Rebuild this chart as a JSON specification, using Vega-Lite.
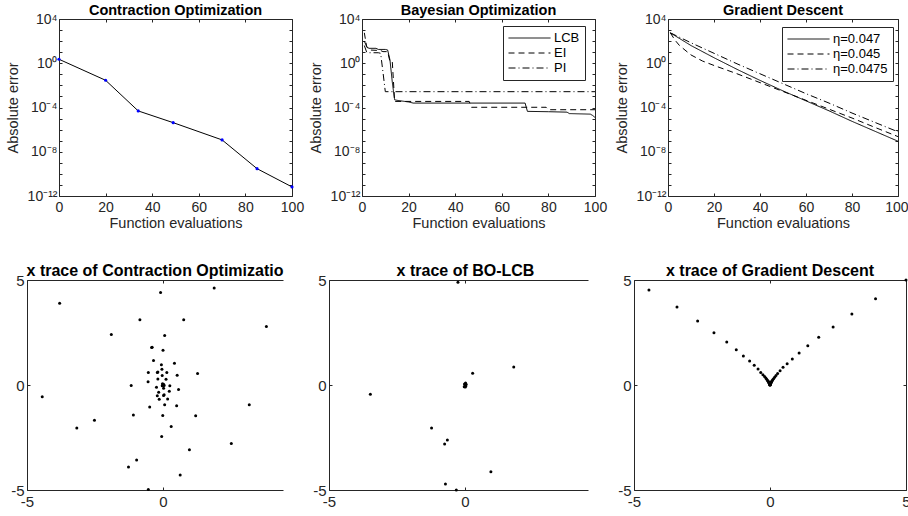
{
  "$schema": "https://vega.github.io/schema/vega-lite/v6.json",
  "background": "white",
  "padding": {"left": 5, "top": 2, "right": 0, "bottom": 0},
  "columns": 3,
  "spacing": {"row": 84, "column": 37},
  "bounds": "flush",
  "align": "each",
  "resolve": {"scale": {"strokeDash": "independent"}, "legend": {"strokeDash": "independent"}},
  "datasets": {
    "co": [
      {"x": 0, "y": 2.291}, {"x": 20, "y": 0.02884}, {"x": 34, "y": 4.898e-5}, {"x": 49, "y": 4.266e-6},
      {"x": 70, "y": 1.175e-7}, {"x": 85, "y": 2.951e-10}, {"x": 100, "y": 6.607e-12}
    ],
    "bo": [
      {"m": "LCB", "x": 1, "y": 100}, {"m": "LCB", "x": 2, "y": 31.62}, {"m": "LCB", "x": 3, "y": 22.39},
      {"m": "LCB", "x": 6, "y": 22.39}, {"m": "LCB", "x": 7, "y": 17.78}, {"m": "LCB", "x": 10, "y": 17.78},
      {"m": "LCB", "x": 11, "y": 15.85}, {"m": "LCB", "x": 12, "y": 2.0}, {"m": "LCB", "x": 13, "y": 0.02},
      {"m": "LCB", "x": 14, "y": 5.0e-4}, {"m": "LCB", "x": 15, "y": 4.47e-4}, {"m": "LCB", "x": 20, "y": 3.16e-4},
      {"m": "LCB", "x": 22, "y": 2.51e-4}, {"m": "LCB", "x": 70, "y": 2.51e-4}, {"m": "LCB", "x": 71, "y": 4.47e-5},
      {"m": "LCB", "x": 80, "y": 4.17e-5}, {"m": "LCB", "x": 88, "y": 3.8e-5}, {"m": "LCB", "x": 89, "y": 2.82e-5},
      {"m": "LCB", "x": 98, "y": 2.51e-5}, {"m": "LCB", "x": 99, "y": 1.9e-5}, {"m": "LCB", "x": 100, "y": 1.26e-5},
      {"m": "EI", "x": 1, "y": 562.3}, {"m": "EI", "x": 2, "y": 31.62}, {"m": "EI", "x": 3, "y": 15.85},
      {"m": "EI", "x": 8, "y": 14.13}, {"m": "EI", "x": 9, "y": 11.22}, {"m": "EI", "x": 11, "y": 11.22},
      {"m": "EI", "x": 12, "y": 1.41}, {"m": "EI", "x": 13, "y": 1.41}, {"m": "EI", "x": 14, "y": 3.55e-4},
      {"m": "EI", "x": 46, "y": 3.55e-4}, {"m": "EI", "x": 47, "y": 1.05e-4}, {"m": "EI", "x": 79, "y": 1.05e-4},
      {"m": "EI", "x": 80, "y": 6.31e-5}, {"m": "EI", "x": 100, "y": 6.31e-5},
      {"m": "PI", "x": 1, "y": 39.81}, {"m": "PI", "x": 2, "y": 10}, {"m": "PI", "x": 3, "y": 8.91},
      {"m": "PI", "x": 7, "y": 8.91}, {"m": "PI", "x": 8, "y": 7.94}, {"m": "PI", "x": 9, "y": 0.158},
      {"m": "PI", "x": 10, "y": 2.69e-3}, {"m": "PI", "x": 100, "y": 2.69e-3}
    ],
    "gd": [
      {"eta": "η=0.047", "x": 1, "y": 562.3}, {"eta": "η=0.047", "x": 10, "y": 39.81}, {"eta": "η=0.047", "x": 20, "y": 3.162},
      {"eta": "η=0.047", "x": 30, "y": 0.2818}, {"eta": "η=0.047", "x": 40, "y": 0.02818}, {"eta": "η=0.047", "x": 50, "y": 0.003162},
      {"eta": "η=0.047", "x": 60, "y": 3.981e-4}, {"eta": "η=0.047", "x": 70, "y": 5.012e-5}, {"eta": "η=0.047", "x": 80, "y": 5.623e-6},
      {"eta": "η=0.047", "x": 90, "y": 7.079e-7}, {"eta": "η=0.047", "x": 100, "y": 8.913e-8},
      {"eta": "η=0.045", "x": 1, "y": 562.3}, {"eta": "η=0.045", "x": 3, "y": 125.9}, {"eta": "η=0.045", "x": 5, "y": 39.81},
      {"eta": "η=0.045", "x": 10, "y": 5.623}, {"eta": "η=0.045", "x": 15, "y": 1.585}, {"eta": "η=0.045", "x": 20, "y": 0.631},
      {"eta": "η=0.045", "x": 30, "y": 0.1122}, {"eta": "η=0.045", "x": 40, "y": 0.01778}, {"eta": "η=0.045", "x": 50, "y": 0.002818},
      {"eta": "η=0.045", "x": 60, "y": 4.467e-4}, {"eta": "η=0.045", "x": 70, "y": 7.079e-5}, {"eta": "η=0.045", "x": 80, "y": 1.122e-5},
      {"eta": "η=0.045", "x": 90, "y": 1.585e-6}, {"eta": "η=0.045", "x": 100, "y": 2.344e-7},
      {"eta": "η=0.0475", "x": 1, "y": 562.3}, {"eta": "η=0.0475", "x": 10, "y": 70.79}, {"eta": "η=0.0475", "x": 20, "y": 7.943},
      {"eta": "η=0.0475", "x": 30, "y": 0.8913}, {"eta": "η=0.0475", "x": 40, "y": 0.1122}, {"eta": "η=0.0475", "x": 50, "y": 0.01413},
      {"eta": "η=0.0475", "x": 60, "y": 0.001778}, {"eta": "η=0.0475", "x": 70, "y": 2.512e-4}, {"eta": "η=0.0475", "x": 80, "y": 3.162e-5},
      {"eta": "η=0.0475", "x": 90, "y": 4.467e-6}, {"eta": "η=0.0475", "x": 100, "y": 6.31e-7}
    ],
    "tco": [
      {"x": 1.88, "y": 4.62}, {"x": -0.09, "y": 4.40}, {"x": -3.80, "y": 3.89}, {"x": -0.85, "y": 3.11},
      {"x": 0.76, "y": 3.11}, {"x": 3.80, "y": 2.78}, {"x": -1.90, "y": 2.40}, {"x": 0.06, "y": 2.36},
      {"x": -0.42, "y": 1.78}, {"x": -0.40, "y": 1.80}, {"x": 0.0, "y": 1.65}, {"x": -0.35, "y": 1.17}, {"x": 0.42, "y": 1.04},
      {"x": -0.06, "y": 0.97}, {"x": -0.04, "y": 0.75}, {"x": -0.54, "y": 0.60}, {"x": -0.21, "y": 0.60},
      {"x": -0.19, "y": 0.62}, {"x": 0.14, "y": 0.60}, {"x": 1.27, "y": 0.55}, {"x": 0.52, "y": 0.47},
      {"x": -0.03, "y": 0.45}, {"x": -0.19, "y": 0.28}, {"x": 0.11, "y": 0.27}, {"x": -0.55, "y": 0.16},
      {"x": -1.17, "y": -0.02}, {"x": 0.0, "y": 0.0}, {"x": 0.02, "y": 0.04}, {"x": -0.03, "y": -0.03},
      {"x": 0.04, "y": -0.02}, {"x": -0.02, "y": 0.06}, {"x": 0.25, "y": -0.03}, {"x": -0.24, "y": -0.11},
      {"x": 0.02, "y": -0.16}, {"x": 0.57, "y": -0.22}, {"x": 0.23, "y": -0.30}, {"x": -0.16, "y": -0.34},
      {"x": -0.21, "y": -0.51}, {"x": 0.02, "y": -0.50}, {"x": 0.04, "y": -0.47}, {"x": 0.17, "y": -0.67},
      {"x": -0.14, "y": -0.68}, {"x": -4.44, "y": -0.56}, {"x": 0.06, "y": -0.94}, {"x": 3.17, "y": -0.94},
      {"x": -0.49, "y": -1.05}, {"x": 0.50, "y": -0.99}, {"x": -1.09, "y": -1.43}, {"x": -0.01, "y": -1.45},
      {"x": 1.20, "y": -1.47}, {"x": -2.52, "y": -1.68}, {"x": -3.17, "y": -2.05}, {"x": 0.30, "y": -1.98},
      {"x": -0.05, "y": -2.45}, {"x": 2.51, "y": -2.78}, {"x": 0.97, "y": -3.08}, {"x": -0.97, "y": -3.57},
      {"x": -1.27, "y": -3.90}, {"x": 0.63, "y": -4.29}, {"x": -0.54, "y": -4.98}
    ],
    "tbo": [
      {"x": -0.26, "y": 4.89}, {"x": 1.79, "y": 0.86}, {"x": 0.28, "y": 0.56}, {"x": 0.0, "y": 0.0},
      {"x": 0.03, "y": -0.05}, {"x": -0.02, "y": 0.05}, {"x": 0.04, "y": 0.03}, {"x": 0.01, "y": -0.1},
      {"x": -0.03, "y": -0.08}, {"x": 0.02, "y": 0.1}, {"x": -3.48, "y": -0.44}, {"x": -1.23, "y": -2.05},
      {"x": -0.65, "y": -2.62}, {"x": -0.75, "y": -2.81}, {"x": 0.95, "y": -4.13}, {"x": -0.72, "y": -4.71},
      {"x": -0.32, "y": -5.0}
    ],
    "tgd": [
      {"x": 5, "y": 5}, {"x": 3.88, "y": 4.11}, {"x": 3.01, "y": 3.38}, {"x": 2.32, "y": 2.76}, {"x": 1.79, "y": 2.27},
      {"x": 1.39, "y": 1.87}, {"x": 1.07, "y": 1.52}, {"x": 0.82, "y": 1.24}, {"x": 0.63, "y": 1.01}, {"x": 0.48, "y": 0.84},
      {"x": 0.37, "y": 0.68}, {"x": 0.28, "y": 0.55}, {"x": 0.22, "y": 0.45}, {"x": 0.17, "y": 0.37}, {"x": 0.13, "y": 0.30},
      {"x": 0.10, "y": 0.25}, {"x": 0.078, "y": 0.20}, {"x": 0.06, "y": 0.165}, {"x": 0.046, "y": 0.135}, {"x": 0.036, "y": 0.11},
      {"x": 0.028, "y": 0.09}, {"x": 0.021, "y": 0.074}, {"x": 0.016, "y": 0.06}, {"x": 0.012, "y": 0.05}, {"x": 0.009, "y": 0.04},
      {"x": 0.007, "y": 0.033}, {"x": 0.005, "y": 0.027},
      {"x": -4.45, "y": 4.52}, {"x": -3.42, "y": 3.71}, {"x": -2.66, "y": 3.05}, {"x": -2.06, "y": 2.49}, {"x": -1.59, "y": 2.05},
      {"x": -1.24, "y": 1.68}, {"x": -0.98, "y": 1.38}, {"x": -0.75, "y": 1.14}, {"x": -0.58, "y": 0.94}, {"x": -0.44, "y": 0.76},
      {"x": -0.34, "y": 0.60}, {"x": -0.26, "y": 0.49}, {"x": -0.20, "y": 0.40}, {"x": -0.155, "y": 0.33}, {"x": -0.12, "y": 0.27},
      {"x": -0.09, "y": 0.22}, {"x": -0.07, "y": 0.18}, {"x": -0.054, "y": 0.15}, {"x": -0.042, "y": 0.12}, {"x": -0.032, "y": 0.10},
      {"x": -0.025, "y": 0.08}, {"x": -0.019, "y": 0.066}, {"x": -0.015, "y": 0.054}, {"x": -0.011, "y": 0.044}, {"x": -0.009, "y": 0.036},
      {"x": -0.007, "y": 0.03}, {"x": 0.0, "y": 0.0}, {"x": 0.002, "y": 0.01}, {"x": -0.002, "y": 0.008}, {"x": 0.001, "y": 0.004}
    ]
  },
  "concat": [
    {
      "width": 265, "height": 177,
      "title": {"text": "Contraction Optimization", "dx": 16},
      "data": {"name": "co"},
      "layer": [
        {
          "mark": {"type": "line", "color": "black", "strokeWidth": 1},
          "encoding": {
            "x": {"field": "x", "type": "quantitative", "scale": {"domain": [0, 100], "range": [32, 265], "nice": false, "zero": false},
                  "axis": {"orient": "bottom", "values": [0, 20, 40, 60, 80, 100], "title": "Function evaluations", "labelPadding": 7, "titlePadding": 2, "labelFlush": false}},
            "y": {"field": "y", "type": "quantitative", "scale": {"type": "log", "domain": [1e-12, 10000], "nice": false},
                  "axis": {"orient": "left", "offset": -32, "values": [1e-12, 1e-11, 1e-10, 1e-9, 1e-8, 1e-7, 1e-6, 1e-5, 1e-4, 0.001, 0.01, 0.1, 1, 10, 100, 1000, 10000],
                           "labelExpr": "round(log(datum.value)/LN10) == 4 ? '10⁴' : round(log(datum.value)/LN10) == 0 ? '10⁰' : round(log(datum.value)/LN10) == -4 ? '10⁻⁴' : round(log(datum.value)/LN10) == -8 ? '10⁻⁸' : round(log(datum.value)/LN10) == -12 ? '10⁻¹²' : ''",
                           "title": "Absolute error", "labelPadding": 5, "titlePadding": 7}}
          }
        },
        {
          "mark": {"type": "point", "filled": true, "color": "#0000ff", "size": 10, "opacity": 1},
          "encoding": {"x": {"field": "x", "type": "quantitative", "axis": null}, "y": {"field": "y", "type": "quantitative", "axis": null}}
        },
        {
          "mark": {"type": "point", "opacity": 0},
          "encoding": {
            "x": {"field": "x", "type": "quantitative", "axis": {"orient": "top", "values": [0, 20, 40, 60, 80, 100], "labels": false, "title": null}},
            "y": {"field": "y", "type": "quantitative", "axis": {"orient": "right", "values": [1e-12, 1e-11, 1e-10, 1e-9, 1e-8, 1e-7, 1e-6, 1e-5, 1e-4, 0.001, 0.01, 0.1, 1, 10, 100, 1000, 10000], "labels": false, "title": null}}
          }
        }
      ],
      "resolve": {"axis": {"x": "independent", "y": "independent"}}
    },
    {
      "width": 266, "height": 177,
      "title": {"text": "Bayesian Optimization", "dx": 16.5},
      "data": {"name": "bo"},
      "layer": [
        {
          "mark": {"type": "line", "color": "black", "strokeWidth": 1},
          "encoding": {
            "x": {"field": "x", "type": "quantitative", "scale": {"domain": [0, 100], "range": [33, 266], "nice": false, "zero": false},
                  "axis": {"orient": "bottom", "values": [0, 20, 40, 60, 80, 100], "title": "Function evaluations", "labelPadding": 7, "titlePadding": 2, "labelFlush": false}},
            "y": {"field": "y", "type": "quantitative", "scale": {"type": "log", "domain": [1e-12, 10000], "nice": false},
                  "axis": {"orient": "left", "offset": -33, "values": [1e-12, 1e-11, 1e-10, 1e-9, 1e-8, 1e-7, 1e-6, 1e-5, 1e-4, 0.001, 0.01, 0.1, 1, 10, 100, 1000, 10000],
                           "labelExpr": "round(log(datum.value)/LN10) == 4 ? '10⁴' : round(log(datum.value)/LN10) == 0 ? '10⁰' : round(log(datum.value)/LN10) == -4 ? '10⁻⁴' : round(log(datum.value)/LN10) == -8 ? '10⁻⁸' : round(log(datum.value)/LN10) == -12 ? '10⁻¹²' : ''",
                           "title": "Absolute error", "labelPadding": 5, "titlePadding": 7}},
            "strokeDash": {"field": "m", "type": "nominal",
                           "scale": {"domain": ["LCB", "EI", "PI"], "range": [[1, 0], [6, 4], [7, 3, 1, 3]]},
                           "legend": {"orient": "none", "legendX": 174, "legendY": 7, "title": null, "symbolType": "stroke", "symbolSize": 1764, "clipHeight": 14,
                                      "symbolStrokeWidth": 1, "symbolStrokeColor": "black", "labelFontSize": 13, "labelColor": "black", "labelFont": "Liberation Sans",
                                      "strokeColor": "#262626", "fillColor": "white", "padding": 5, "rowPadding": 1, "labelOffset": 3}}
          }
        },
        {
          "mark": {"type": "point", "opacity": 0},
          "encoding": {
            "x": {"field": "x", "type": "quantitative", "axis": {"orient": "top", "values": [0, 20, 40, 60, 80, 100], "labels": false, "title": null}},
            "y": {"field": "y", "type": "quantitative", "axis": {"orient": "right", "values": [1e-12, 1e-11, 1e-10, 1e-9, 1e-8, 1e-7, 1e-6, 1e-5, 1e-4, 0.001, 0.01, 0.1, 1, 10, 100, 1000, 10000], "labels": false, "title": null}}
          }
        }
      ],
      "resolve": {"axis": {"x": "independent", "y": "independent"}}
    },
    {
      "width": 266, "height": 177,
      "title": {"text": "Gradient Descent", "dx": 18},
      "data": {"name": "gd"},
      "layer": [
        {
          "mark": {"type": "line", "color": "black", "strokeWidth": 1},
          "encoding": {
            "x": {"field": "x", "type": "quantitative", "scale": {"domain": [0, 100], "range": [36, 266], "nice": false, "zero": false},
                  "axis": {"orient": "bottom", "values": [0, 20, 40, 60, 80, 100], "title": "Function evaluations", "labelPadding": 7, "titlePadding": 2, "labelFlush": false,
                           "labelAlign": {"condition": {"test": "datum.value == 100", "value": "right"}, "value": "center"},
                           "labelOffset": {"condition": {"test": "datum.value == 100", "value": 10}, "value": 0}}},
            "y": {"field": "y", "type": "quantitative", "scale": {"type": "log", "domain": [1e-12, 10000], "nice": false},
                  "axis": {"orient": "left", "offset": -36, "values": [1e-12, 1e-11, 1e-10, 1e-9, 1e-8, 1e-7, 1e-6, 1e-5, 1e-4, 0.001, 0.01, 0.1, 1, 10, 100, 1000, 10000],
                           "labelExpr": "round(log(datum.value)/LN10) == 4 ? '10⁴' : round(log(datum.value)/LN10) == 0 ? '10⁰' : round(log(datum.value)/LN10) == -4 ? '10⁻⁴' : round(log(datum.value)/LN10) == -8 ? '10⁻⁸' : round(log(datum.value)/LN10) == -12 ? '10⁻¹²' : ''",
                           "title": "Absolute error", "labelPadding": 5, "titlePadding": 7}},
            "strokeDash": {"field": "eta", "type": "nominal",
                           "scale": {"domain": ["η=0.047", "η=0.045", "η=0.0475"], "range": [[1, 0], [6, 4], [7, 3, 1, 3]]},
                           "legend": {"orient": "none", "legendX": 150, "legendY": 8, "title": null, "symbolType": "stroke", "symbolSize": 1764, "clipHeight": 14,
                                      "symbolStrokeWidth": 1, "symbolStrokeColor": "black", "labelFontSize": 13, "labelColor": "black", "labelFont": "Liberation Sans",
                                      "strokeColor": "#262626", "fillColor": "white", "padding": 5, "rowPadding": 1, "labelOffset": 3}}
          }
        },
        {
          "mark": {"type": "point", "opacity": 0},
          "encoding": {
            "x": {"field": "x", "type": "quantitative", "axis": {"orient": "top", "values": [0, 20, 40, 60, 80, 100], "labels": false, "title": null}},
            "y": {"field": "y", "type": "quantitative", "axis": {"orient": "right", "values": [1e-12, 1e-11, 1e-10, 1e-9, 1e-8, 1e-7, 1e-6, 1e-5, 1e-4, 0.001, 0.01, 0.1, 1, 10, 100, 1000, 10000], "labels": false, "title": null}}
          }
        }
      ],
      "resolve": {"axis": {"x": "independent", "y": "independent"}}
    },
    {
      "width": 256, "height": 210,
      "title": {"text": "x trace of Contraction Optimizatio", "fontSize": 16},
      "data": {"name": "tco"},
      "layer": [
        {
          "mark": {"type": "circle", "color": "black", "size": 9, "opacity": 1},
          "encoding": {
            "x": {"field": "x", "type": "quantitative", "scale": {"domain": [-5, 4.41], "nice": false, "zero": false},
                  "axis": {"orient": "bottom", "values": [-5, 0], "title": null, "labelExpr": "'' + datum.value", "labelPadding": 7, "labelFlush": false, "labelFontSize": 15}},
            "y": {"field": "y", "type": "quantitative", "scale": {"domain": [-5, 5], "nice": false, "zero": false},
                  "axis": {"orient": "left", "values": [-5, 0, 5], "title": null, "labelExpr": "'' + datum.value", "labelPadding": 6, "labelFontSize": 15}}
          }
        },
        {
          "mark": {"type": "circle", "opacity": 0},
          "encoding": {
            "x": {"field": "x", "type": "quantitative", "axis": {"orient": "top", "values": [-5, 0], "labels": false, "title": null}},
            "y": {"field": "y", "type": "quantitative", "axis": null}
          }
        }
      ],
      "resolve": {"axis": {"x": "independent", "y": "independent"}}
    },
    {
      "width": 259, "height": 210,
      "title": {"text": "x trace of BO-LCB", "fontSize": 16, "dx": 7},
      "data": {"name": "tbo"},
      "layer": [
        {
          "mark": {"type": "circle", "color": "black", "size": 9, "opacity": 1},
          "encoding": {
            "x": {"field": "x", "type": "quantitative", "scale": {"domain": [-5, 4.52], "nice": false, "zero": false},
                  "axis": {"orient": "bottom", "values": [-5, 0], "title": null, "labelExpr": "'' + datum.value", "labelPadding": 7, "labelFlush": false, "labelFontSize": 15}},
            "y": {"field": "y", "type": "quantitative", "scale": {"domain": [-5, 5], "nice": false, "zero": false},
                  "axis": {"orient": "left", "values": [-5, 0, 5], "title": null, "labelExpr": "'' + datum.value", "labelPadding": 6, "labelFontSize": 15}}
          }
        },
        {
          "mark": {"type": "circle", "opacity": 0},
          "encoding": {
            "x": {"field": "x", "type": "quantitative", "axis": {"orient": "top", "values": [-5, 0], "labels": false, "title": null}},
            "y": {"field": "y", "type": "quantitative", "axis": null}
          }
        }
      ],
      "resolve": {"axis": {"x": "independent", "y": "independent"}}
    },
    {
      "width": 274, "height": 210,
      "title": {"text": "x trace of Gradient Descent", "fontSize": 16, "dx": 1},
      "data": {"name": "tgd"},
      "layer": [
        {
          "mark": {"type": "circle", "color": "black", "size": 9, "opacity": 1},
          "encoding": {
            "x": {"field": "x", "type": "quantitative", "scale": {"domain": [-5, 5], "range": [2, 274], "nice": false, "zero": false},
                  "axis": {"orient": "bottom", "values": [-5, 0, 5], "title": null, "labelExpr": "'' + datum.value", "labelPadding": 7, "labelFlush": false, "labelFontSize": 15}},
            "y": {"field": "y", "type": "quantitative", "scale": {"domain": [-5, 5], "nice": false, "zero": false},
                  "axis": {"orient": "left", "offset": -2, "values": [-5, 0, 5], "title": null, "labelExpr": "'' + datum.value", "labelPadding": 6, "labelFontSize": 15}}
          }
        },
        {
          "mark": {"type": "circle", "opacity": 0},
          "encoding": {
            "x": {"field": "x", "type": "quantitative", "axis": {"orient": "top", "values": [-5, 0, 5], "labels": false, "title": null}},
            "y": {"field": "y", "type": "quantitative", "axis": {"orient": "right", "values": [-5, 0, 5], "labels": false, "title": null}}
          }
        }
      ],
      "resolve": {"axis": {"x": "independent", "y": "independent"}}
    }
  ],
  "config": {
    "font": "Liberation Sans",
    "view": {"stroke": null},
    "axis": {
      "grid": false, "domainColor": "#262626", "tickColor": "#262626", "labelColor": "#262626", "titleColor": "#262626",
      "labelFont": "Liberation Sans", "titleFont": "Liberation Sans", "labelFontSize": 14, "titleFontSize": 14.5,
      "titleFontWeight": "normal", "tickSize": -3, "domainWidth": 1, "tickWidth": 1, "labelOverlap": false
    },
    "title": {"font": "Liberation Sans", "fontSize": 14.5, "fontWeight": "bold", "color": "black", "offset": -6, "anchor": "middle"}
  }
}
